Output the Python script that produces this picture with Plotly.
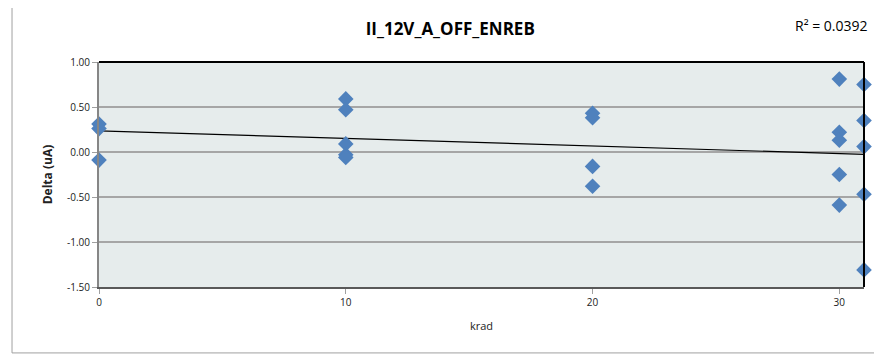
import numpy as np
import plotly.graph_objects as go

# krad dose vs delta current
krad = [0, 0, 0,
        10, 10, 10, 10, 10,
        20, 20, 20, 20,
        30, 30, 30, 30, 30,
        31, 31, 31, 31, 31]
delta_ua = [0.31, 0.26, -0.09,
            0.59, 0.47, 0.09, -0.03, -0.06,
            0.43, 0.38, -0.16, -0.38,
            0.81, 0.22, 0.13, -0.25, -0.59,
            0.75, 0.35, 0.06, -0.47, -1.31]
x_ticks = [0, 10, 20, 30]
y_ticks = [1.0, 0.5, 0.0, -0.5, -1.0, -1.5]
title = "II_12V_A_OFF_ENREB"
r2_text = "R² = 0.0392"

slope, icpt = np.polyfit(krad, delta_ua, 1)
trend_x = [0, 31]
trend_y = [icpt + slope * v for v in trend_x]

font = "Open Sans, Liberation Sans, sans-serif"

fig = go.Figure()
fig.add_trace(go.Scatter(x=trend_x, y=trend_y, mode="lines",
                         line=dict(color="black", width=1.2),
                         hoverinfo="skip", showlegend=False, cliponaxis=False))
fig.add_trace(go.Scatter(x=krad, y=delta_ua, mode="markers",
                         marker=dict(symbol="diamond", size=12, color="#4F81BD"),
                         showlegend=False, cliponaxis=False))

# page body has an 8px margin, so the figure is sized to fit the window
fig.update_layout(
    width=874, height=349,
    margin=dict(l=91, r=18, t=54, b=70),
    paper_bgcolor="white",
    plot_bgcolor="#E6ECEC",
    font=dict(family=font, size=10, color="#222"),
    title=dict(text="<b>" + title + "</b>", x=0.506, xref="container", xanchor="center",
               y=0.94, yanchor="middle", font=dict(size=17, color="black")),
    xaxis=dict(range=[0, 31], tickvals=x_ticks, showgrid=False, zeroline=False,
               showline=True, linecolor="#595959", linewidth=2,
               ticks="outside", ticklen=5, tickcolor="#A0A0A0",
               title=dict(text="krad", font=dict(size=11), standoff=14)),
    yaxis=dict(range=[-1.5, 1.0], tickvals=y_ticks,
               ticktext=["%.2f" % v for v in y_ticks],
               showgrid=True, gridcolor="#A6A6A6", gridwidth=1.5, zeroline=False,
               showline=True, linecolor="#868686", linewidth=2,
               ticks="outside", ticklen=5, tickcolor="#A0A0A0",
               title=dict(text="<b>Delta (uA)</b>", font=dict(size=12), standoff=12)),
    shapes=[
        # outer chart frame
        dict(type="rect", xref="paper", yref="paper",
             x0=-0.1137, x1=1.0196, y0=-0.293, y1=1.262,
             line=dict(color="#A0A0A0", width=1), layer="below"),
        # plot area top/right border
        dict(type="line", xref="paper", yref="paper", x0=0, x1=1, y0=1, y1=1,
             line=dict(color="black", width=2)),
        dict(type="line", xref="paper", yref="paper", x0=1, x1=1, y0=0, y1=1,
             line=dict(color="black", width=2)),
    ],
    annotations=[
        dict(text=r2_text, xref="paper", yref="paper", x=1.008, y=1.164,
             xanchor="right", yanchor="middle", showarrow=False,
             font=dict(size=14, color="black")),
    ],
)

fig.write_html("out.html")
